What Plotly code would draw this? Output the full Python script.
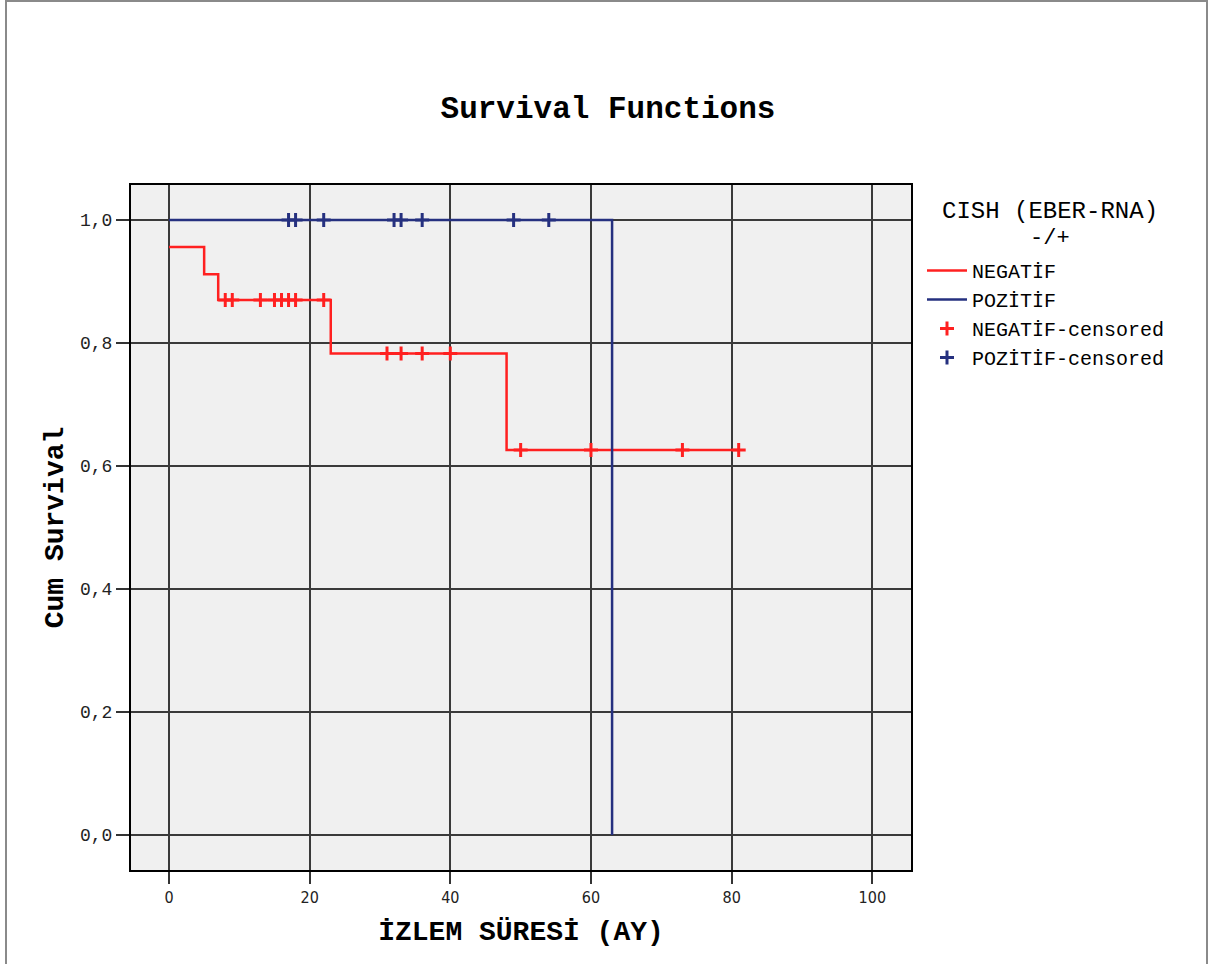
import plotly.graph_objects as go

# Step survival curves (Kaplan-Meier)
neg_times = [0, 5, 7, 23, 48, 81]
neg_surv = [0.956, 0.912, 0.870, 0.783, 0.626, 0.626]
pos_times = [0, 63, 63]
pos_surv = [1.0, 1.0, 0.0]

# Censored times
neg_cens = [8, 9, 13, 15, 16, 17, 18, 22, 31, 33, 36, 40, 50, 60, 73, 81]
pos_cens = [17, 18, 22, 32, 33, 36, 49, 54]

x_ticks = [0, 20, 40, 60, 80, 100]
y_ticks = [0.0, 0.2, 0.4, 0.6, 0.8, 1.0]

RED = "#FF2020"
BLUE = "#25307F"
MONO = "Liberation Mono, Courier New, monospace"


def step_value(times, surv, t):
    idx = 0
    for i, tt in enumerate(times):
        if tt <= t:
            idx = i
    return surv[idx]


neg_cens_y = [step_value(neg_times, neg_surv, t) for t in neg_cens]
pos_cens_y = [step_value(pos_times[:2], pos_surv[:2], t) for t in pos_cens]

fig = go.Figure()
fig.add_trace(go.Scatter(x=neg_times, y=neg_surv, mode="lines", line_shape="hv",
                         line=dict(color=RED, width=2.5), name="NEGATİF"))
fig.add_trace(go.Scatter(x=pos_times, y=pos_surv, mode="lines", line_shape="hv",
                         line=dict(color=BLUE, width=2.5), name="POZİTİF"))
fig.add_trace(go.Scatter(x=neg_cens, y=neg_cens_y, mode="markers", name="NEGATİF-censored",
                         marker=dict(symbol="cross-thin", size=10, line=dict(color=RED, width=3))))
fig.add_trace(go.Scatter(x=pos_cens, y=pos_cens_y, mode="markers", name="POZİTİF-censored",
                         marker=dict(symbol="cross-thin", size=10, line=dict(color=BLUE, width=3))))

L, R, T, B = 131, 911, 185, 870
W, H = 1212, 964


def px_x(p):
    return (p - L) / (R - L)


def px_y(p):
    return (B - p) / (B - T)


fig.update_layout(
    width=W, height=H,
    margin=dict(l=L, r=W - R, t=T, b=H - B),
    paper_bgcolor="white",
    plot_bgcolor="#F0F0F0",
    separators=",.",
    title=dict(text="<b>Survival Functions</b>", x=608 / W, xref="container", xanchor="center",
               y=1 - 107 / H, yanchor="middle", yref="container",
               font=dict(family=MONO, size=31, color="black")),
    showlegend=True,
    legend=dict(x=px_x(922), y=px_y(251), xanchor="left", yanchor="top",
                font=dict(family=MONO, size=20, color="black"),
                bgcolor="rgba(0,0,0,0)", tracegroupgap=0, itemwidth=40),
    xaxis=dict(range=[-5.4, 105.5], tickvals=x_ticks, ticks="outside", ticklen=12,
               tickcolor="#333", tickwidth=2, showgrid=True, gridcolor="#3a3a3a", gridwidth=2,
               showline=True, linecolor="black", linewidth=2, mirror=True, zeroline=False,
               tickfont=dict(family="DejaVu Sans Condensed, Liberation Sans Narrow, sans-serif", size=16, color="#222"),
               title=dict(text="<b>İZLEM SÜRESİ (AY)</b>", standoff=14,
                          font=dict(family=MONO, size=28, color="black"))),
    yaxis=dict(range=[-0.057, 1.057], tickvals=y_ticks, tickformat=".1f", ticks="outside",
               ticklen=13, tickcolor="#333", tickwidth=2, showgrid=True, gridcolor="#3a3a3a", gridwidth=2,
               showline=True, linecolor="black", linewidth=2, mirror=True, zeroline=False,
               tickfont=dict(family=MONO, size=18, color="#222"),
               title=dict(text="<b>Cum Survival</b>", standoff=8,
                          font=dict(family=MONO, size=28, color="black"))),
    annotations=[
        dict(text="CISH (EBER-RNA)", x=px_x(1050), y=px_y(211),
             xref="paper", yref="paper", showarrow=False, xanchor="center", yanchor="middle",
             font=dict(family=MONO, size=24, color="black")),
        dict(text="-/+", x=px_x(1050), y=px_y(238),
             xref="paper", yref="paper", showarrow=False, xanchor="center", yanchor="middle",
             font=dict(family=MONO, size=22, color="black")),
    ],
    shapes=[dict(type="rect", xref="paper", yref="paper",
                 x0=px_x(6), x1=px_x(1207), y0=px_y(1000), y1=px_y(1),
                 line=dict(color="#8a8a8a", width=2), layer="below")],
)

fig.write_html("out.html", config={"displayModeBar": False},
               post_script="document.body.style.margin='0';")
